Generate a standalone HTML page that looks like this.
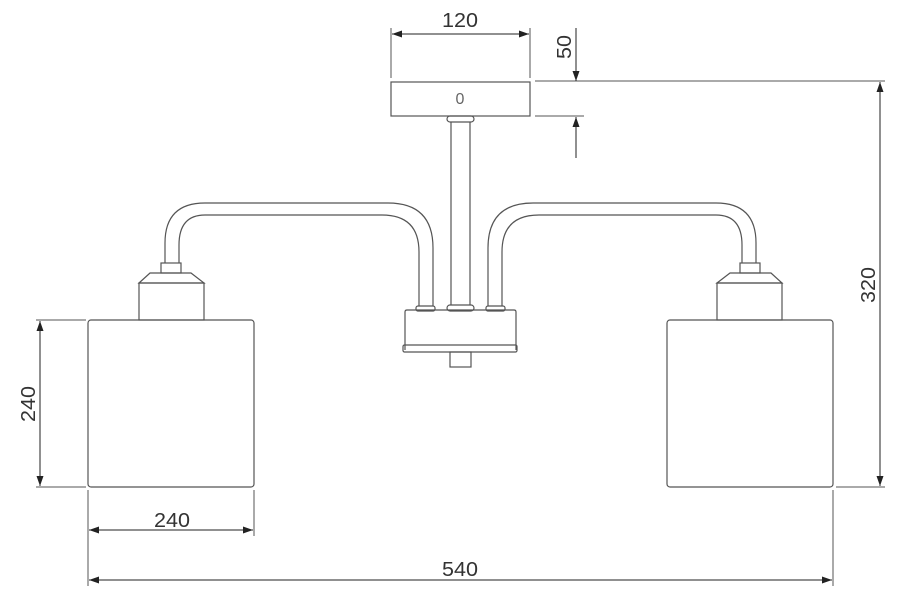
<!DOCTYPE html>
<html><head><style>body{margin:0;background:#fff}svg{display:block}</style></head><body>
<svg width="903" height="600" viewBox="0 0 903 600" xmlns="http://www.w3.org/2000/svg">
<defs>
<marker id="a" viewBox="0 0 10 10" refX="10" refY="5" markerWidth="10" markerHeight="10" markerUnits="userSpaceOnUse" orient="auto-start-reverse"><path d="M0,1.5 L10,5 L0,8.5 z" fill="#222"/></marker>
</defs>
<g fill="none" stroke="#555" stroke-width="1.2">
<!-- canopy -->
<rect x="391" y="82" width="139" height="34"/>
<rect x="447" y="116" width="27" height="6" rx="3"/>
<line x1="451" y1="122" x2="451" y2="305"/><line x1="470" y1="122" x2="470" y2="305"/>
<rect x="447" y="305" width="27" height="6" rx="3"/>
<!-- body -->
<path d="M405,350 V312 Q405,310 407,310 H514 Q516,310 516,312 V350"/>
<rect x="403" y="345" width="114" height="7" rx="1.5"/>
<rect x="450" y="352" width="21" height="15"/>
<rect x="416" y="306" width="19" height="5" rx="2"/>
<rect x="486" y="306" width="19" height="5" rx="2"/>
<!-- left arm -->
<path d="M419,306 V252 Q419,215 382,215 H205 Q179,215 179,245 V263"/>
<path d="M433,306 V248 Q433,203 388,203 H205 Q165,203 165,243 V263"/>
<rect x="161" y="263" width="20" height="10"/>
<path d="M139,283 L150,273 H191 L204,283 Z"/>
<rect x="139" y="283" width="65" height="37"/>
<rect x="88" y="320" width="166" height="167" rx="3"/>
<!-- right arm -->
<path d="M502,306 V252 Q502,215 539,215 H716 Q742,215 742,245 V263"/>
<path d="M488,306 V248 Q488,203 533,203 H716 Q756,203 756,243 V263"/>
<rect x="740" y="263" width="20" height="10"/>
<path d="M717,283 L730,273 H771 L782,283 Z"/>
<rect x="717" y="283" width="65" height="37"/>
<rect x="667" y="320" width="166" height="167" rx="3"/>
</g>
<!-- dimension lines -->
<g stroke="#555" stroke-width="1" fill="none">
<line x1="391" y1="28" x2="391" y2="78"/><line x1="530" y1="28" x2="530" y2="78"/>
<line x1="535" y1="81" x2="885" y2="81"/><line x1="535" y1="116" x2="584" y2="116"/>
<line x1="836" y1="487" x2="885" y2="487"/>
<line x1="36" y1="320" x2="86" y2="320"/><line x1="36" y1="487" x2="86" y2="487"/>
<line x1="88" y1="490" x2="88" y2="586"/><line x1="254" y1="490" x2="254" y2="536"/>
<line x1="833" y1="490" x2="833" y2="586"/>
</g>
<g stroke="#222" stroke-width="1" fill="none">
<line x1="392" y1="34" x2="529" y2="34" marker-start="url(#a)" marker-end="url(#a)"/>
<line x1="576" y1="28" x2="576" y2="81" marker-end="url(#a)"/>
<line x1="576" y1="158" x2="576" y2="117" marker-end="url(#a)"/>
<line x1="880" y1="82" x2="880" y2="486" marker-start="url(#a)" marker-end="url(#a)"/>
<line x1="40" y1="321" x2="40" y2="486" marker-start="url(#a)" marker-end="url(#a)"/>
<line x1="89" y1="530" x2="253" y2="530" marker-start="url(#a)" marker-end="url(#a)"/>
<line x1="89" y1="580" x2="832" y2="580" marker-start="url(#a)" marker-end="url(#a)"/>
</g>
<g font-family="Liberation Sans, sans-serif" font-size="20" fill="#333" text-anchor="middle">
<text x="460" y="27" textLength="36" lengthAdjust="spacingAndGlyphs">120</text>
<text x="172" y="527" textLength="36" lengthAdjust="spacingAndGlyphs">240</text>
<text x="460" y="576" textLength="36" lengthAdjust="spacingAndGlyphs">540</text>
<text transform="translate(571,47) rotate(-90)" textLength="24" lengthAdjust="spacingAndGlyphs">50</text>
<text transform="translate(875,285) rotate(-90)" textLength="36" lengthAdjust="spacingAndGlyphs">320</text>
<text transform="translate(35,404) rotate(-90)" textLength="36" lengthAdjust="spacingAndGlyphs">240</text>
<text x="460" y="104" font-size="16" fill="#666">0</text>
</g>
</svg>
</body></html>
